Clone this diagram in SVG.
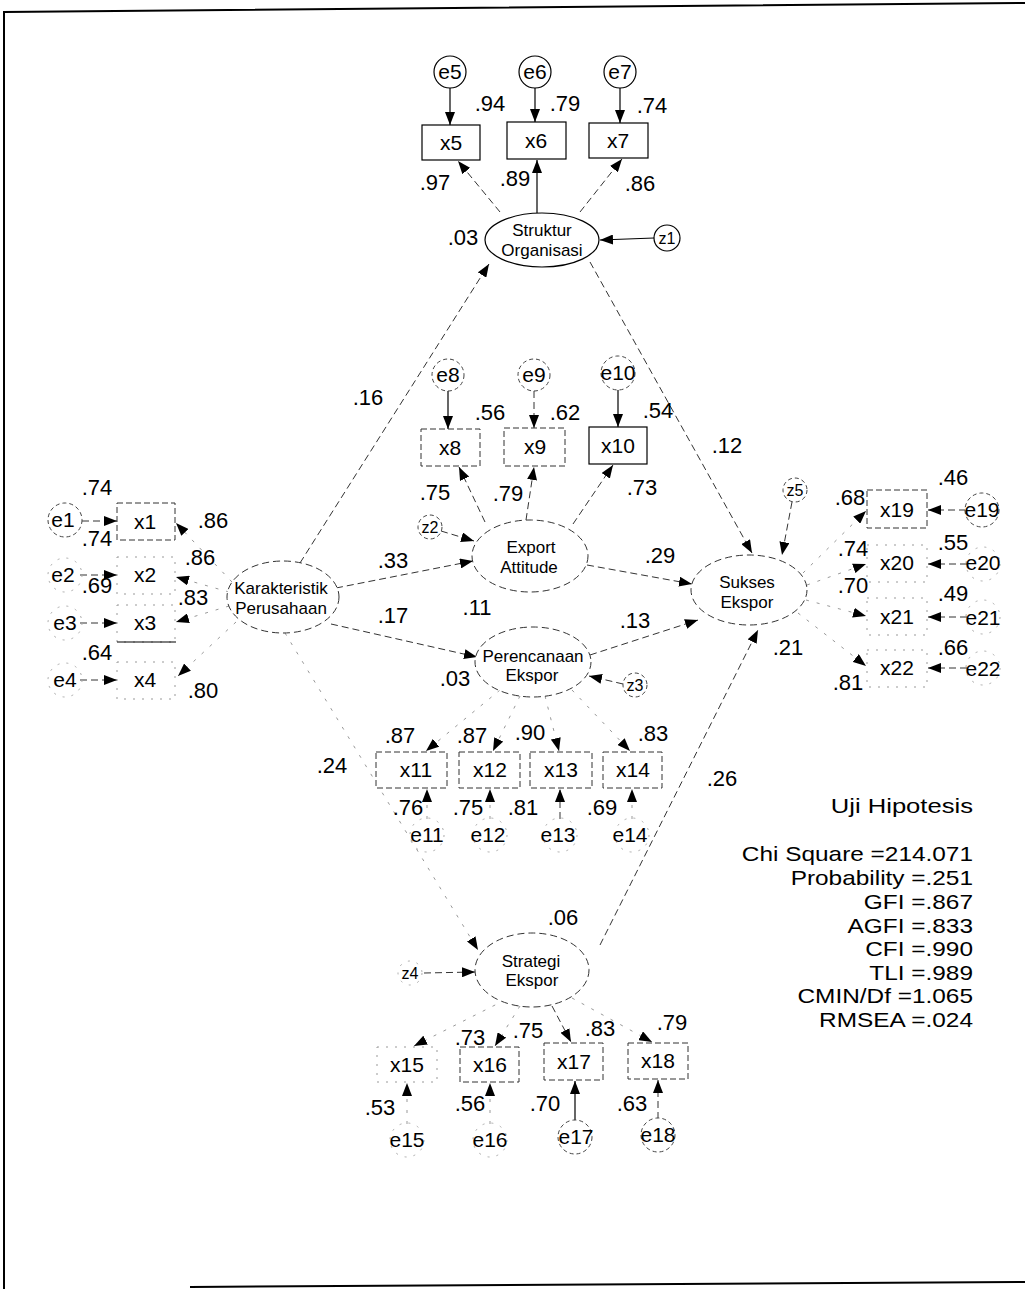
<svg xmlns="http://www.w3.org/2000/svg" width="1025" height="1289" viewBox="0 0 1025 1289">
<style>
text{font-family:"Liberation Sans",Arial,sans-serif;fill:#000}
.lb{font-size:22px;text-anchor:middle}
.nm{font-size:21px;text-anchor:middle}
.lt{font-size:17px;text-anchor:middle}
.zn{font-size:16px;text-anchor:middle}
.st{font-size:20px;text-anchor:end}
.box{fill:#fff;stroke:#000;stroke-width:1.2}
.boxd{fill:#fff;stroke:#333;stroke-width:1;stroke-dasharray:6 3}
.boxg{fill:#fff;stroke:#999;stroke-width:1;stroke-dasharray:2 7}
.ell{fill:#fff;stroke:#000;stroke-width:1.2}
.elld{fill:#fff;stroke:#333;stroke-width:1;stroke-dasharray:7 4}
.cir{fill:#fff;stroke:#000;stroke-width:1.2}
.cird{fill:#fff;stroke:#444;stroke-width:1;stroke-dasharray:4 3}
.cirg{fill:none;stroke:#aaa;stroke-width:1;stroke-dasharray:2 7}
.a{stroke:#000;stroke-width:1.2;fill:none;marker-end:url(#ah)}
.ad{stroke:#333;stroke-width:1;fill:none;stroke-dasharray:7 4;marker-end:url(#ah)}
.ag{stroke:#999;stroke-width:1;fill:none;stroke-dasharray:3 8;marker-end:url(#ah)}
</style>
<defs>
<marker id="ah" viewBox="0 0 13 10" refX="13" refY="5" markerWidth="13" markerHeight="10" orient="auto" markerUnits="userSpaceOnUse">
<path d="M0,0 L13,5 L0,10 z" fill="#000"/>
</marker>
</defs>
<rect width="1025" height="1289" fill="#fff"/>
<g id="frame" fill="none" stroke="#000" stroke-width="2">
<path d="M1025,3 L4,12 L4,1289"/>
<path d="M190,1287 L1025,1282"/>
</g>

<g id="connectors">
<line class="a" x1="450" y1="88" x2="450" y2="125"/>
<line class="a" x1="535" y1="88" x2="535" y2="122"/>
<line class="a" x1="620" y1="88" x2="620" y2="123"/>
<line class="ad" x1="500" y1="212" x2="458" y2="161"/>
<line class="a" x1="537" y1="213" x2="537" y2="160"/>
<line class="ad" x1="580" y1="212" x2="622" y2="159"/>
<line class="a" x1="654" y1="238" x2="600" y2="240"/>
<line class="ad" x1="300" y1="563" x2="489" y2="264"/>
<line class="ad" x1="590" y1="262" x2="752" y2="553"/>
<line class="a" x1="448" y1="391" x2="448" y2="429"/>
<line class="ad" x1="534" y1="391" x2="534" y2="428"/>
<line class="a" x1="618" y1="389" x2="618" y2="427"/>
<line class="ad" x1="485" y1="522" x2="459" y2="467"/>
<line class="ad" x1="526" y1="520" x2="534" y2="467"/>
<line class="ad" x1="573" y1="524" x2="613" y2="465"/>
<line class="ad" x1="441" y1="531" x2="474" y2="541"/>
<line class="ad" x1="336" y1="588" x2="473" y2="561"/>
<line class="ad" x1="331" y1="624" x2="477" y2="657"/>
<line class="ad" x1="587" y1="565" x2="692" y2="584"/>
<line class="ad" x1="590" y1="655" x2="698" y2="620"/>
<line class="ad" x1="623" y1="684" x2="589" y2="676"/>
<line class="ad" x1="792" y1="502" x2="782" y2="555"/>
<line class="ad" x1="82" y1="521" x2="117" y2="521"/>
<line class="ad" x1="80" y1="575" x2="117" y2="575"/>
<line class="ad" x1="80" y1="623" x2="117" y2="623"/>
<line class="ad" x1="80" y1="680" x2="117" y2="680"/>
<line class="ag" x1="232" y1="582" x2="176" y2="523"/>
<line class="ag" x1="229" y1="592" x2="176" y2="577"/>
<line class="ag" x1="229" y1="606" x2="176" y2="622"/>
<line class="ag" x1="236" y1="622" x2="178" y2="676"/>
<line class="ag" x1="803" y1="573" x2="866" y2="511"/>
<line class="ag" x1="807" y1="585" x2="866" y2="564"/>
<line class="ag" x1="806" y1="600" x2="866" y2="616"/>
<line class="ag" x1="798" y1="613" x2="866" y2="666"/>
<line class="ad" x1="966" y1="510" x2="928" y2="510"/>
<line class="ad" x1="967" y1="564" x2="928" y2="564"/>
<line class="ad" x1="967" y1="617" x2="928" y2="617"/>
<line class="ad" x1="967" y1="668" x2="928" y2="668"/>
<line class="ag" x1="500" y1="690" x2="426" y2="751"/>
<line class="ag" x1="520" y1="696" x2="493" y2="751"/>
<line class="ag" x1="545" y1="696" x2="559" y2="751"/>
<line class="ag" x1="572" y1="690" x2="630" y2="751"/>
<line class="ag" x1="427" y1="819" x2="427" y2="789"/>
<line class="ag" x1="490" y1="819" x2="490" y2="789"/>
<line class="ad" x1="560" y1="819" x2="560" y2="789"/>
<line class="ag" x1="632" y1="819" x2="632" y2="789"/>
<line class="ag" x1="285" y1="633" x2="478" y2="950"/>
<line class="ad" x1="600" y1="945" x2="758" y2="630"/>
<line class="ad" x1="424" y1="973" x2="475" y2="972"/>
<line class="ag" x1="505" y1="1000" x2="414" y2="1046"/>
<line class="ag" x1="520" y1="1006" x2="495" y2="1046"/>
<line class="ad" x1="552" y1="1006" x2="571" y2="1042"/>
<line class="ag" x1="572" y1="998" x2="652" y2="1042"/>
<line class="ag" x1="407" y1="1124" x2="407" y2="1083"/>
<line class="ag" x1="490" y1="1124" x2="490" y2="1083"/>
<line class="a" x1="575" y1="1121" x2="575" y2="1081"/>
<line class="ad" x1="658" y1="1119" x2="658" y2="1080"/>
</g>

<g id="struktur"><ellipse class="ell" cx="542" cy="240" rx="57" ry="27"/><text class="lt" x="542" y="236">Struktur</text><text class="lt" x="542" y="256">Organisasi</text></g>
<g id="export"><ellipse class="elld" cx="530" cy="556" rx="58" ry="36"/><text class="lt" x="531" y="553">Export</text><text class="lt" x="529" y="573">Attitude</text></g>
<g id="karakteristik"><ellipse class="elld" cx="283" cy="597" rx="56" ry="36"/><text class="lt" x="281" y="594">Karakteristik</text><text class="lt" x="281" y="614">Perusahaan</text></g>
<g id="perencanaan"><ellipse class="elld" cx="533" cy="662" rx="58" ry="35"/><text class="lt" x="533" y="662">Perencanaan</text><text class="lt" x="532" y="681">Ekspor</text></g>
<g id="sukses"><ellipse class="elld" cx="749" cy="590" rx="58" ry="35"/><text class="lt" x="747" y="588">Sukses</text><text class="lt" x="747" y="608">Ekspor</text></g>
<g id="strategi"><ellipse class="elld" cx="532" cy="970" rx="57" ry="37"/><text class="lt" x="531" y="967">Strategi</text><text class="lt" x="532" y="986">Ekspor</text></g>

<g id="z1"><circle class="cir" cx="667" cy="238" r="13"/><text class="zn" x="667" y="244">z1</text></g>
<g id="z2"><circle class="cird" cx="430" cy="527" r="12"/><text class="zn" x="430" y="533">z2</text></g>
<g id="z3"><circle class="cird" cx="635" cy="685" r="12"/><text class="zn" x="635" y="691">z3</text></g>
<g id="z4"><circle class="cirg" cx="410" cy="973" r="12"/><text class="zn" x="410" y="979">z4</text></g>
<g id="z5"><circle class="cird" cx="795" cy="490" r="12"/><text class="zn" x="795" y="496">z5</text></g>

<g id="x5"><rect class="box" x="422" y="125" width="58" height="35"/><text class="nm" x="451" y="150">x5</text></g>
<g id="x6"><rect class="box" x="507" y="122" width="59" height="37"/><text class="nm" x="536" y="148">x6</text></g>
<g id="x7"><rect class="box" x="589" y="123" width="59" height="35"/><text class="nm" x="618" y="148">x7</text></g>
<g id="e5"><circle class="cir" cx="450" cy="72" r="16"/><text class="nm" x="450" y="79">e5</text></g>
<g id="e6"><circle class="cir" cx="535" cy="72" r="16"/><text class="nm" x="535" y="79">e6</text></g>
<g id="e7"><circle class="cir" cx="620" cy="72" r="16"/><text class="nm" x="620" y="79">e7</text></g>

<g id="x8"><rect class="boxd" x="421" y="429" width="59" height="37"/><text class="nm" x="450" y="455">x8</text></g>
<g id="x9"><rect class="boxd" x="504" y="428" width="61" height="38"/><text class="nm" x="535" y="454">x9</text></g>
<g id="x10"><rect class="box" x="589" y="427" width="58" height="37"/><text class="nm" x="618" y="453">x10</text></g>
<g id="e8"><circle class="cird" cx="448" cy="375" r="16"/><text class="nm" x="448" y="382">e8</text></g>
<g id="e9"><circle class="cird" cx="534" cy="375" r="16"/><text class="nm" x="534" y="382">e9</text></g>
<g id="e10"><circle class="cird" cx="618" cy="373" r="17"/><text class="nm" x="618" y="380">e10</text></g>

<g id="x1"><rect class="boxd" x="117" y="503" width="58" height="37"/><text class="nm" x="145" y="529">x1</text></g>
<g id="x2"><rect class="boxg" x="117" y="557" width="58" height="37"/><text class="nm" x="145" y="582">x2</text></g>
<g id="x3"><rect class="boxg" x="117" y="605" width="58" height="37"/><text class="nm" x="145" y="630">x3</text><line x1="117" y1="642" x2="176" y2="642" stroke="#000" stroke-width="1.2"/></g>
<g id="x4"><rect class="boxg" x="117" y="662" width="58" height="37"/><text class="nm" x="145" y="687">x4</text></g>
<g id="e1"><circle class="cird" cx="65" cy="520" r="17"/><text class="nm" x="63" y="527">e1</text></g>
<g id="e2"><circle class="cirg" cx="65" cy="575" r="17"/><text class="nm" x="63" y="582">e2</text></g>
<g id="e3"><circle class="cirg" cx="65" cy="623" r="17"/><text class="nm" x="65" y="630">e3</text></g>
<g id="e4"><circle class="cirg" cx="65" cy="680" r="17"/><text class="nm" x="65" y="687">e4</text></g>

<g id="x19"><rect class="boxd" x="867" y="490" width="60" height="38"/><text class="nm" x="897" y="517">x19</text></g>
<g id="x20"><rect class="boxg" x="867" y="545" width="60" height="37"/><text class="nm" x="897" y="570">x20</text></g>
<g id="x21"><rect class="boxg" x="867" y="598" width="60" height="37"/><text class="nm" x="897" y="624">x21</text></g>
<g id="x22"><rect class="boxg" x="867" y="650" width="60" height="37"/><text class="nm" x="897" y="675">x22</text></g>
<g id="e19"><circle class="cird" cx="982" cy="510" r="17"/><text class="nm" x="982" y="517">e19</text></g>
<g id="e20"><circle class="cirg" cx="983" cy="564" r="17"/><text class="nm" x="983" y="570">e20</text></g>
<g id="e21"><circle class="cirg" cx="983" cy="617" r="17"/><text class="nm" x="983" y="625">e21</text></g>
<g id="e22"><circle class="cirg" cx="983" cy="668" r="17"/><text class="nm" x="983" y="676">e22</text></g>

<g id="x11"><rect class="boxd" x="376" y="752" width="71" height="36"/><text class="nm" x="416" y="777">x11</text></g>
<g id="x12"><rect class="boxd" x="459" y="752" width="61" height="36"/><text class="nm" x="490" y="777">x12</text></g>
<g id="x13"><rect class="boxd" x="530" y="752" width="62" height="36"/><text class="nm" x="561" y="777">x13</text></g>
<g id="x14"><rect class="boxd" x="603" y="752" width="59" height="36"/><text class="nm" x="633" y="777">x14</text></g>
<g id="e11"><circle class="cirg" cx="427" cy="835" r="17"/><text class="nm" x="427" y="842">e11</text></g>
<g id="e12"><circle class="cirg" cx="490" cy="835" r="17"/><text class="nm" x="488" y="842">e12</text></g>
<g id="e13"><circle class="cirg" cx="560" cy="835" r="17"/><text class="nm" x="558" y="842">e13</text></g>
<g id="e14"><circle class="cirg" cx="632" cy="835" r="17"/><text class="nm" x="630" y="842">e14</text></g>

<g id="x15"><rect class="boxg" x="377" y="1047" width="60" height="35"/><text class="nm" x="407" y="1072">x15</text></g>
<g id="x16"><rect class="boxd" x="460" y="1047" width="59" height="35"/><text class="nm" x="490" y="1072">x16</text></g>
<g id="x17"><rect class="boxd" x="544" y="1043" width="59" height="37"/><text class="nm" x="574" y="1069">x17</text></g>
<g id="x18"><rect class="boxd" x="628" y="1043" width="60" height="36"/><text class="nm" x="658" y="1068">x18</text></g>
<g id="e15"><circle class="cirg" cx="407" cy="1140" r="17"/><text class="nm" x="407" y="1147">e15</text></g>
<g id="e16"><circle class="cirg" cx="490" cy="1140" r="17"/><text class="nm" x="490" y="1147">e16</text></g>
<g id="e17"><circle class="cird" cx="575" cy="1137" r="17"/><text class="nm" x="576" y="1144">e17</text></g>
<g id="e18"><circle class="cird" cx="658" cy="1135" r="17"/><text class="nm" x="658" y="1142">e18</text></g>

<g id="labels">
<text class="lb" x="490" y="111">.94</text>
<text class="lb" x="565" y="111">.79</text>
<text class="lb" x="652" y="113">.74</text>
<text class="lb" x="435" y="190">.97</text>
<text class="lb" x="515" y="186">.89</text>
<text class="lb" x="640" y="191">.86</text>
<text class="lb" x="463" y="245">.03</text>
<text class="lb" x="368" y="405">.16</text>
<text class="lb" x="490" y="420">.56</text>
<text class="lb" x="565" y="420">.62</text>
<text class="lb" x="658" y="418">.54</text>
<text class="lb" x="727" y="453">.12</text>
<text class="lb" x="435" y="500">.75</text>
<text class="lb" x="508" y="501">.79</text>
<text class="lb" x="642" y="495">.73</text>
<text class="lb" x="393" y="568">.33</text>
<text class="lb" x="477" y="615">.11</text>
<text class="lb" x="393" y="623">.17</text>
<text class="lb" x="660" y="563">.29</text>
<text class="lb" x="635" y="628">.13</text>
<text class="lb" x="455" y="686">.03</text>
<text class="lb" x="788" y="655">.21</text>
<text class="lb" x="97" y="495">.74</text>
<text class="lb" x="97" y="546">.74</text>
<text class="lb" x="97" y="593">.69</text>
<text class="lb" x="97" y="660">.64</text>
<text class="lb" x="213" y="528">.86</text>
<text class="lb" x="200" y="565">.86</text>
<text class="lb" x="193" y="605">.83</text>
<text class="lb" x="203" y="698">.80</text>
<text class="lb" x="953" y="485">.46</text>
<text class="lb" x="953" y="550">.55</text>
<text class="lb" x="953" y="601">.49</text>
<text class="lb" x="953" y="655">.66</text>
<text class="lb" x="850" y="505">.68</text>
<text class="lb" x="853" y="556">.74</text>
<text class="lb" x="853" y="593">.70</text>
<text class="lb" x="848" y="690">.81</text>
<text class="lb" x="400" y="743">.87</text>
<text class="lb" x="472" y="743">.87</text>
<text class="lb" x="530" y="740">.90</text>
<text class="lb" x="653" y="741">.83</text>
<text class="lb" x="332" y="773">.24</text>
<text class="lb" x="722" y="786">.26</text>
<text class="lb" x="408" y="815">.76</text>
<text class="lb" x="468" y="815">.75</text>
<text class="lb" x="523" y="815">.81</text>
<text class="lb" x="602" y="815">.69</text>
<text class="lb" x="563" y="925">.06</text>
<text class="lb" x="470" y="1045">.73</text>
<text class="lb" x="528" y="1038">.75</text>
<text class="lb" x="600" y="1036">.83</text>
<text class="lb" x="672" y="1030">.79</text>
<text class="lb" x="380" y="1115">.53</text>
<text class="lb" x="470" y="1111">.56</text>
<text class="lb" x="545" y="1111">.70</text>
<text class="lb" x="632" y="1111">.63</text>
</g>

<g id="stats" transform="translate(973,0) scale(1.22,1)">
<text class="st" x="0" y="813" style="font-size:21px">Uji Hipotesis</text>
<text class="st" x="0" y="861">Chi Square =214.071</text>
<text class="st" x="0" y="885">Probability =.251</text>
<text class="st" x="0" y="909">GFI =.867</text>
<text class="st" x="0" y="933">AGFI =.833</text>
<text class="st" x="0" y="956">CFI =.990</text>
<text class="st" x="0" y="980">TLI =.989</text>
<text class="st" x="0" y="1003">CMIN/Df =1.065</text>
<text class="st" x="0" y="1027">RMSEA =.024</text>
</g>
</svg>
